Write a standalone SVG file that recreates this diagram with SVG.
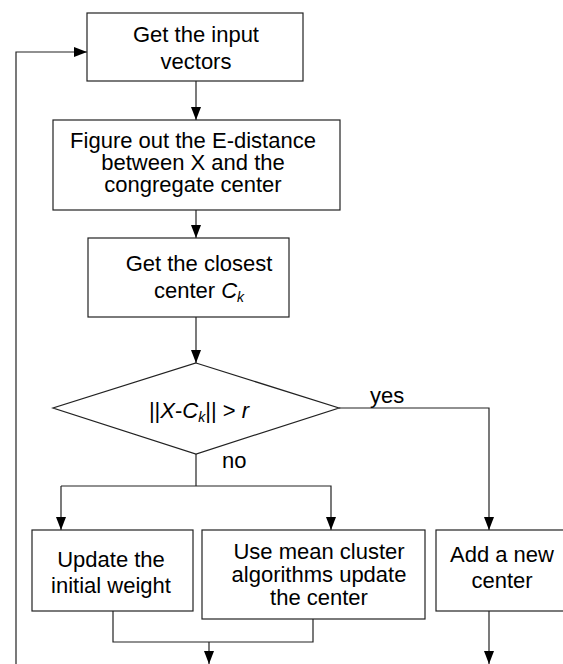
<svg xmlns="http://www.w3.org/2000/svg" width="563" height="664" viewBox="0 0 563 664">
<defs>
<marker id="ah" markerUnits="userSpaceOnUse" markerWidth="13" markerHeight="10" refX="13" refY="5" orient="auto">
<path d="M0,0 L13,5 L0,10 z" fill="#000"/>
</marker>
<style>
.box{fill:#fff;stroke:#222;stroke-width:1.2}
.t{font-family:"Liberation Sans",Arial,sans-serif;font-size:22px;fill:#000;text-anchor:middle}
.lbl{font-family:"Liberation Sans",Arial,sans-serif;font-size:22px;fill:#000}
.c{fill:none;stroke:#222;stroke-width:1.2}
.a{marker-end:url(#ah)}
.i{font-style:italic}
.s{font-style:italic;font-size:14px}
</style>
</defs>
<rect width="563" height="664" fill="#fff"/>
<g id="connectors">
<path class="c a" d="M16,664 V52 H87"/>
<path class="c a" d="M196,81 V120"/>
<path class="c a" d="M196,210 V238"/>
<path class="c a" d="M196,317 V363"/>
<path class="c a" d="M339,408 H489 V530"/>
<path class="c" d="M196,454 V486"/>
<path class="c a" d="M61,486 H331 V530"/>
<path class="c a" d="M61,486 V530"/>
<path class="c a" d="M489,611 V664"/>
<path class="c" d="M113,611 V642 H313 V619"/>
<path class="c a" d="M209,642 V664"/>
<text class="lbl" x="370" y="403">yes</text>
<text class="lbl" x="222" y="468">no</text>
</g>
<g id="n1">
<rect class="box" x="87" y="13" width="216" height="68"/>
<text class="t" x="196" y="42">Get the input</text>
<text class="t" x="196" y="69">vectors</text>
</g>
<g id="n2">
<rect class="box" x="53" y="120" width="287" height="90"/>
<text class="t" x="193" y="148">Figure out the E-distance</text>
<text class="t" x="193" y="170">between X and the</text>
<text class="t" x="193" y="192">congregate center</text>
</g>
<g id="n3">
<rect class="box" x="88" y="238" width="201" height="79"/>
<text class="t" x="199" y="271">Get the closest</text>
<text class="t" x="199" y="298">center <tspan class="i">C</tspan><tspan class="s" dy="4">k</tspan></text>
</g>
<g id="n4">
<path class="box" d="M196,363 L339,408 L196,454 L53,408 Z"/>
<text class="t" x="199" y="418">||<tspan class="i">X</tspan>-<tspan class="i">C</tspan><tspan class="s" dy="4">k</tspan><tspan dy="-4">|| &gt; </tspan><tspan class="i">r</tspan></text>
</g>
<g id="n5">
<rect class="box" x="32" y="530" width="161" height="81"/>
<text class="t" x="111" y="567">Update the</text>
<text class="t" x="111" y="593">initial weight</text>
</g>
<g id="n6">
<rect class="box" x="202" y="530" width="223" height="89"/>
<text class="t" x="319" y="559">Use mean cluster</text>
<text class="t" x="319" y="582">algorithms update</text>
<text class="t" x="319" y="605">the center</text>
</g>
<g id="n7">
<rect class="box" x="436" y="530" width="130" height="81"/>
<text class="t" x="502" y="562">Add a new</text>
<text class="t" x="502" y="588">center</text>
</g>
</svg>
